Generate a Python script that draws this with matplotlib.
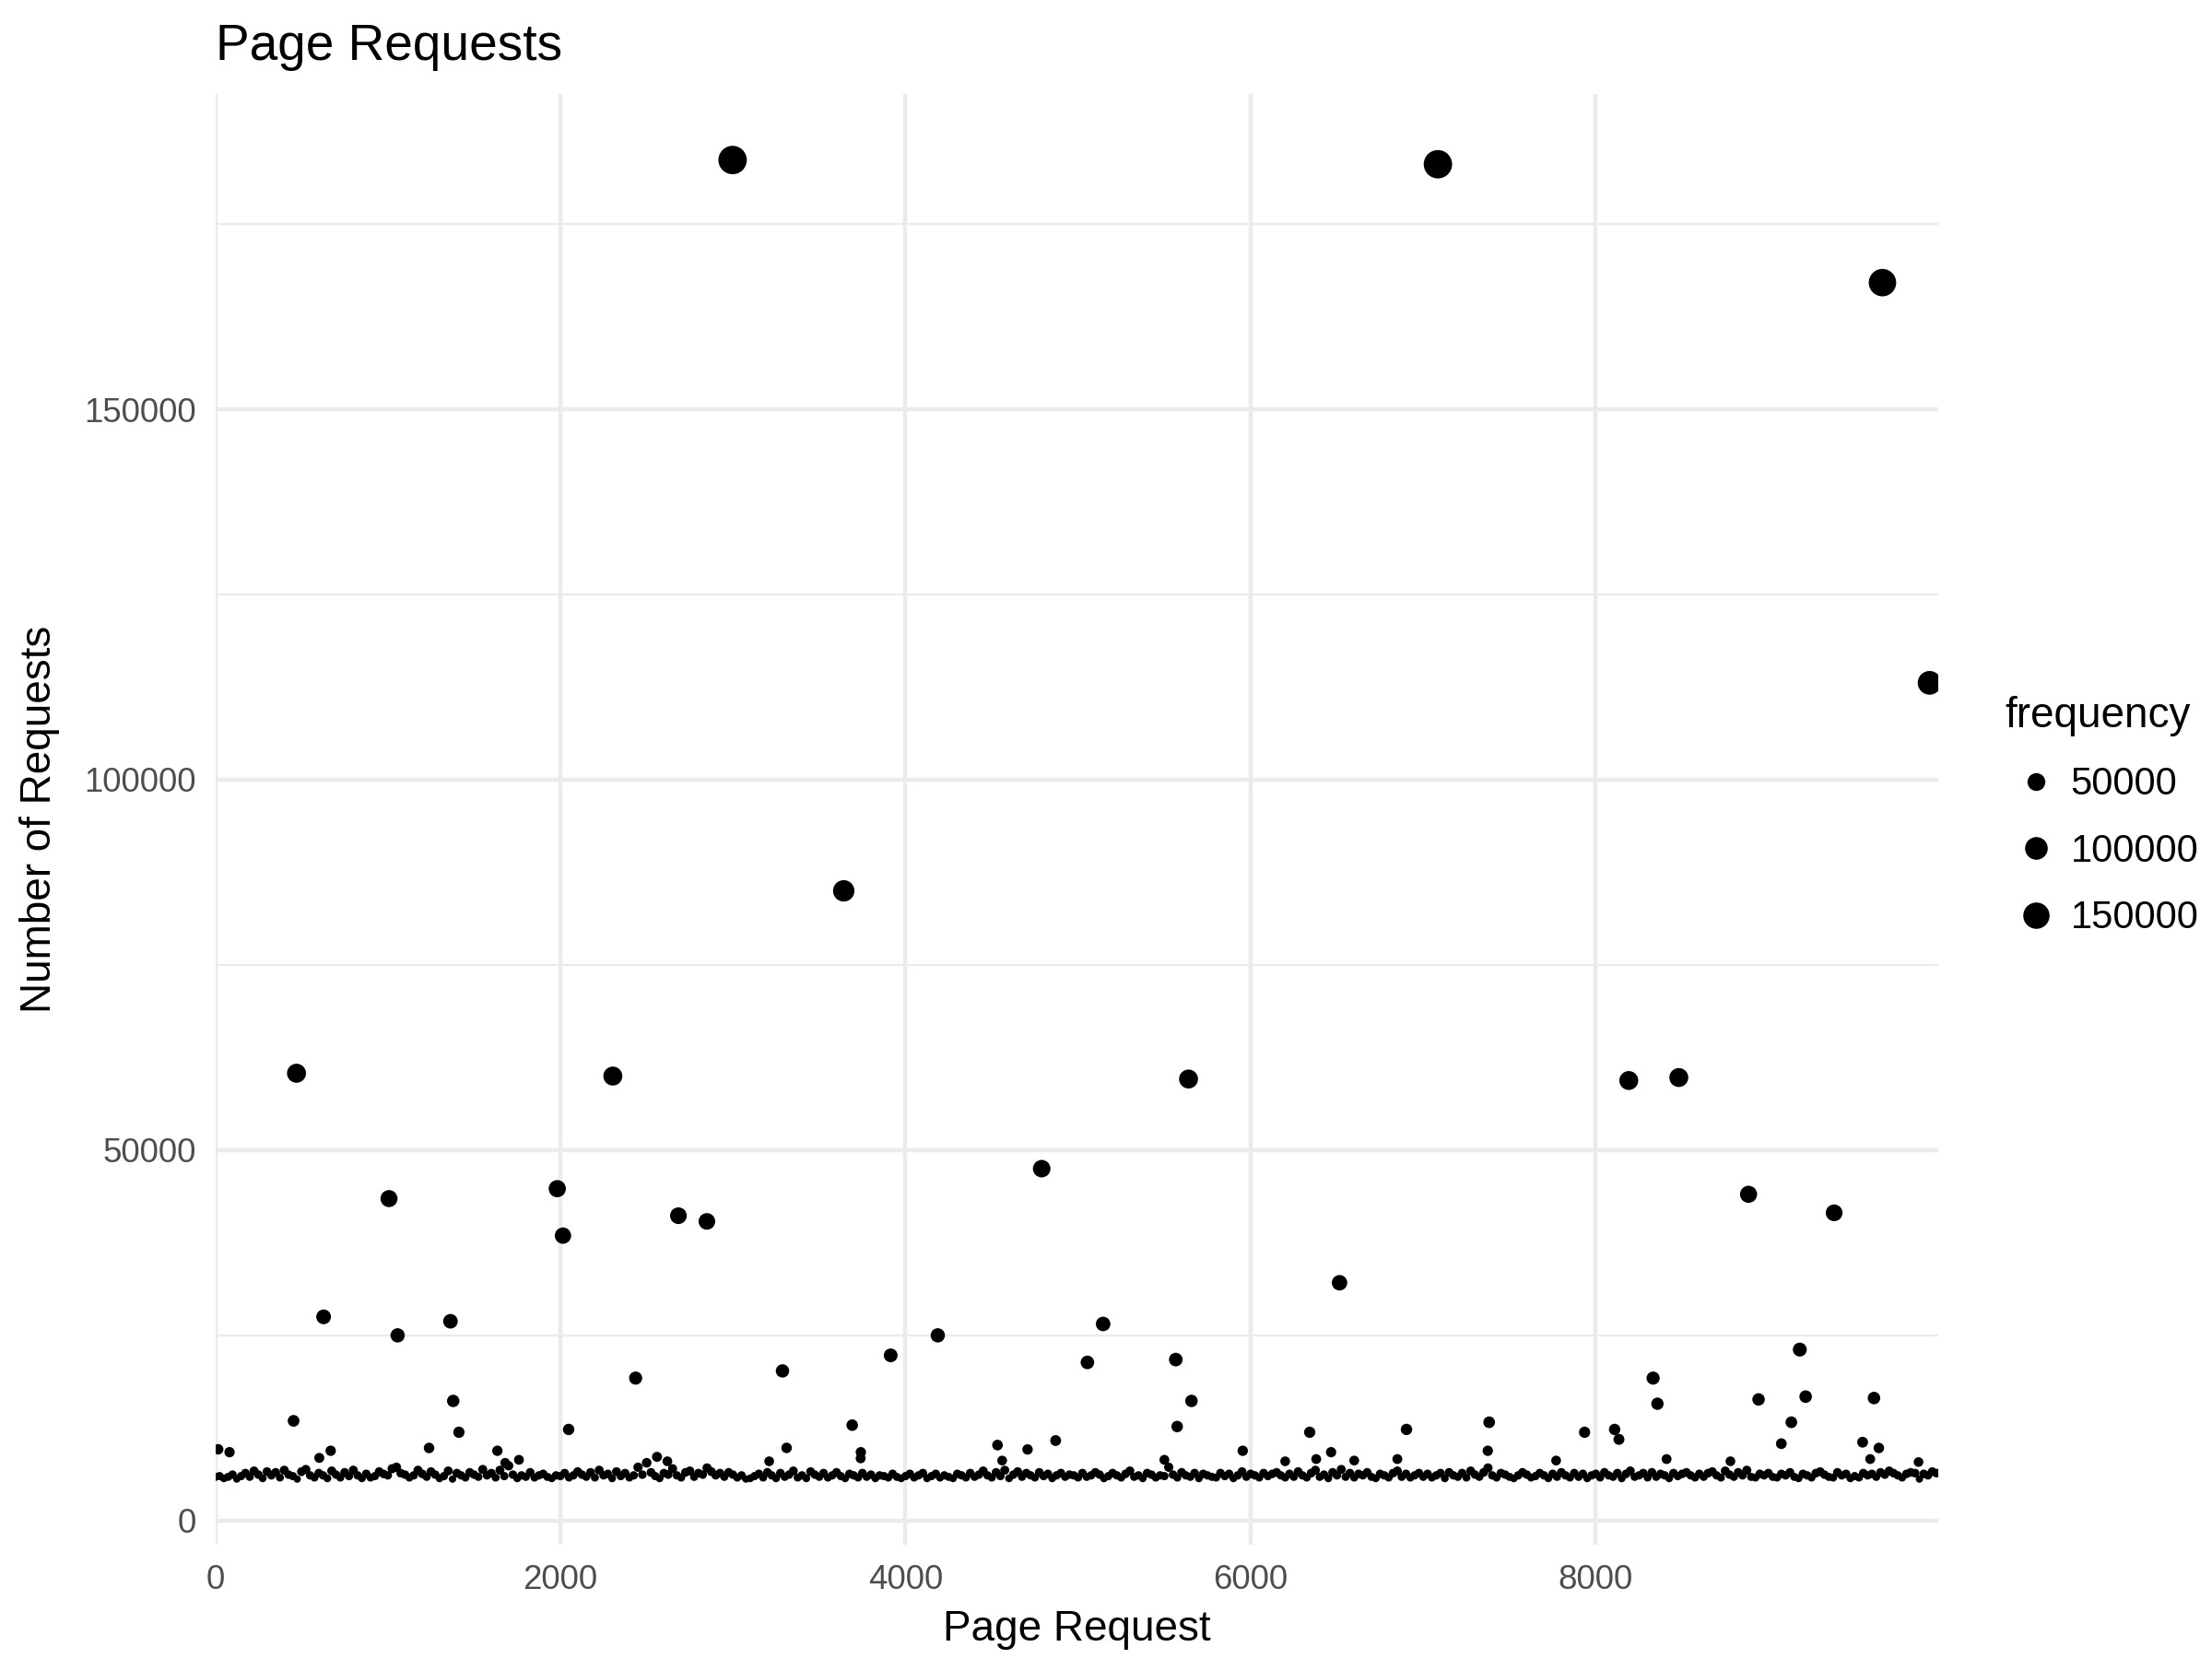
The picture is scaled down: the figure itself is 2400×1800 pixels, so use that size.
import matplotlib
matplotlib.use("Agg")
import matplotlib.pyplot as plt
import matplotlib.ticker as mticker
from matplotlib.lines import Line2D
import numpy as np

plt.rcParams['font.family'] = ['Liberation Sans', 'DejaVu Sans']

# pages that stand out above the bulk
outlier_page = [2998, 7085, 9661, 9934, 3642, 471, 2304, 5640, 8191, 8481,
                4789, 1007, 1982, 2015, 2684, 2849, 8885, 9381, 6515, 628,
                1057, 1363, 4187, 5145, 9182, 3914, 3287, 2436, 5054, 5566,
                8332, 1379, 5657, 8943, 9216, 9612, 8357, 454, 1412, 2048,
                3691, 5574, 6342, 6903, 7382, 7935, 8109, 8134, 9133, 9075,
                17, 83, 1239, 1635, 3311, 4533, 4870, 4707, 5954, 7374,
                9546, 9640, 3741, 6466, 669, 603,
                1760, 2560, 2620, 3210, 3740, 4560, 5500, 6200, 6380, 6600,
                6850, 7770, 8410, 8780, 9590, 9870, 1680]
outlier_requests = [183650, 183080, 167100, 113080, 85000, 60380, 60000, 59600, 59400, 59800,
                    47500, 43460, 44800, 38460, 41150, 40380, 44040, 41540, 32100, 27500,
                    25000, 26900, 25000, 26540, 23080, 22300, 20200, 19230, 21350, 21730,
                    19230, 16150, 16150, 16350, 16730, 16540, 15770, 13460, 11920, 12300,
                    12880, 12690, 11920, 12300, 13270, 11920, 12300, 10960, 13270, 10380,
                    9620, 9230, 9800, 9420, 9810, 10190, 10800, 9600, 9420, 9420,
                    10580, 9800, 9230, 9230, 9420, 8460,
                    8200, 8600, 8000, 8000, 8400, 8100, 8200, 8000, 8300, 8100,
                    8300, 8100, 8300, 8000, 8300, 7900, 7800]

# the dense band of ordinary pages, one value every 25 page ids
band_requests = [
    5900, 6000, 5700, 5900, 6200, 5600, 6000, 6400, 5900, 6700, 6200, 5700, 6600, 6100, 6500, 5800, 6800, 6200, 6000, 5600,
    6600, 6900, 6100, 5800, 6400, 6100, 5700, 6700, 6200, 5800, 6500, 6000, 6800, 6100, 5700, 6300, 5800, 6000, 6600, 6300,
    6100, 7000, 7200, 6400, 6200, 5800, 6100, 6800, 6300, 5900, 6600, 6200, 5700, 6000, 6700, 5600, 6400, 6100, 5800, 6500,
    6200, 5900, 6900, 6100, 6400, 5800, 6800, 6000, 7400, 6200, 5700, 6100, 5900, 6500, 5800, 6100, 6300, 5900, 5700, 6100,
    6000, 6400, 5800, 6100, 6600, 6200, 5900, 6500, 5800, 6800, 6100, 6300, 5700, 6600, 6000, 6400, 5800, 6100, 7200, 6200,
    7800, 6500, 6000, 5700, 6400, 6200, 7000, 6100, 5800, 6500, 6700, 5900, 6400, 6200, 7100, 6600, 6100, 6400, 5900, 6500,
    6200, 5800, 6100, 5600, 5700, 6000, 6300, 5800, 6500, 6100, 5700, 6400, 5900, 6200, 6700, 5800, 6100, 5700, 6600, 6200,
    5900, 6400, 5800, 6100, 6500, 6000, 5700, 6300, 6100, 5800, 6400, 5900, 6200, 5700, 6100, 6000, 5800, 6300, 5900, 5700,
    6000, 6300, 5800, 6100, 6400, 5700, 6000, 6300, 5800, 6100, 5900, 5700, 6300, 6100, 5800, 6400, 5900, 6200, 6700, 6100,
    5800, 6500, 6000, 6800, 5700, 6200, 6600, 5900, 6400, 6100, 5800, 6500, 6000, 6300, 5700, 6100, 6400, 5900, 6200, 6100,
    5800, 6400, 5900, 6100, 6500, 6200, 5700, 6000, 6400, 6100, 5800, 6300, 6700, 5900, 6100, 5700, 6400, 6200, 5800, 6100,
    6000, 7200, 6200, 5800, 6500, 6100, 5900, 6400, 5700, 6300, 6100, 5900, 5800, 6400, 6000, 6300, 5700, 6100, 6600, 5900,
    6300, 6100, 5800, 6400, 6000, 6300, 6500, 6100, 5800, 6300, 5900, 6600, 6100, 5800, 6400, 6800, 5900, 6200, 5700, 6500,
    6100, 6900, 5900, 6400, 5800, 6300, 6100, 6500, 5900, 5700, 6300, 6100, 5800, 6400, 6700, 5900, 6300, 5800, 6100, 6400,
    5900, 6300, 5800, 6100, 6400, 5700, 6500, 6100, 5900, 6400, 5800, 6700, 6200, 5900, 6500, 7100, 6100, 5800, 6400, 6200,
    5900, 5700, 6100, 6500, 6200, 5800, 6000, 6400, 6100, 5700, 6300, 5900, 6500, 6100, 5800, 6400, 5900, 6300, 5700, 6100,
    6300, 5800, 6500, 6100, 5900, 6400, 5700, 6300, 6700, 5900, 6100, 6400, 5800, 6500, 5900, 6300, 6100, 5700, 6400, 6000,
    6300, 6500, 6100, 5800, 6300, 5900, 6400, 6600, 6100, 5800, 6700, 6200, 5900, 6500, 6100, 6800, 5900, 5800, 6300, 6100,
    6400, 5900, 5800, 6300, 6100, 6500, 5900, 5700, 6300, 6100, 5800, 6400, 6600, 6200, 5900, 5800, 6500, 6100, 6300, 5700,
    6000, 5800, 6400, 6100, 6300, 5900, 6500, 6200, 6700, 6400, 6100, 5800, 6300, 6500, 6400, 5600, 6300, 6100, 6600, 6400,
]
band_page = np.arange(0, 25 * len(band_requests), 25)

legend_breaks = [50000, 100000, 150000]
x_breaks = [0, 2000, 4000, 6000, 8000]

page = np.concatenate([band_page, np.array(outlier_page)])
requests = np.concatenate([np.array(band_requests), np.array(outlier_requests)]).astype(float)

vmin, vmax = requests.min(), requests.max()


def point_diam(v):
    # area scaling like ggplot's scale_size, diameter in points
    return 1.9 + 5.5 * np.sqrt((np.asarray(v, dtype=float) - vmin) / (vmax - vmin))


fig = plt.figure(figsize=(8, 6), dpi=300)
ax = fig.add_axes([0.0973, 0.0687, 0.779, 0.8746])

ax.scatter(page, requests, s=point_diam(requests) ** 2, c='black', linewidths=0, zorder=3)

span = vmax - vmin
ax.set_xlim(0, 9985)
ax.set_ylim(vmin - 0.05 * span, vmax + 0.05 * span)

ax.xaxis.set_major_locator(mticker.FixedLocator(x_breaks))
ax.yaxis.set_major_locator(mticker.MultipleLocator(50000))
ax.yaxis.set_minor_locator(mticker.MultipleLocator(25000))
ax.xaxis.set_major_formatter(mticker.FormatStrFormatter('%d'))
ax.yaxis.set_major_formatter(mticker.FormatStrFormatter('%d'))

ax.set_axisbelow(True)
ax.grid(which='major', color='#EBEBEB', linewidth=1.07)
ax.grid(which='minor', axis='y', color='#EBEBEB', linewidth=0.53)
for s in ax.spines.values():
    s.set_visible(False)
ax.tick_params(which='both', length=0, pad=5, labelsize=8.8, labelcolor='#4D4D4D')

ax.set_xlabel('Page Request', fontsize=11, va='center')
ax.xaxis.set_label_coords(0.5, -0.058)
ax.set_ylabel('Number of Requests', fontsize=11, va='center')
ax.yaxis.set_label_coords(-0.1017, 0.5)

fig.text(0.0973, 1 - 42 / 1164, 'Page Requests', fontsize=13.2, va='baseline', ha='left')

handles = [Line2D([], [], ls='none', marker='o', color='black', markeredgewidth=0,
                  markersize=point_diam(b)) for b in legend_breaks]
labels = [str(b) for b in legend_breaks]
ax.legend(handles, labels, title='frequency', loc='center left',
          bbox_to_anchor=(0.9066, 0.508), bbox_transform=fig.transFigure,
          frameon=False, fontsize=10, title_fontsize=11, borderpad=0, borderaxespad=0,
          handlelength=1.6, handletextpad=0.1, labelspacing=0.78, alignment='left')

fig.savefig('out.png', dpi=300)
